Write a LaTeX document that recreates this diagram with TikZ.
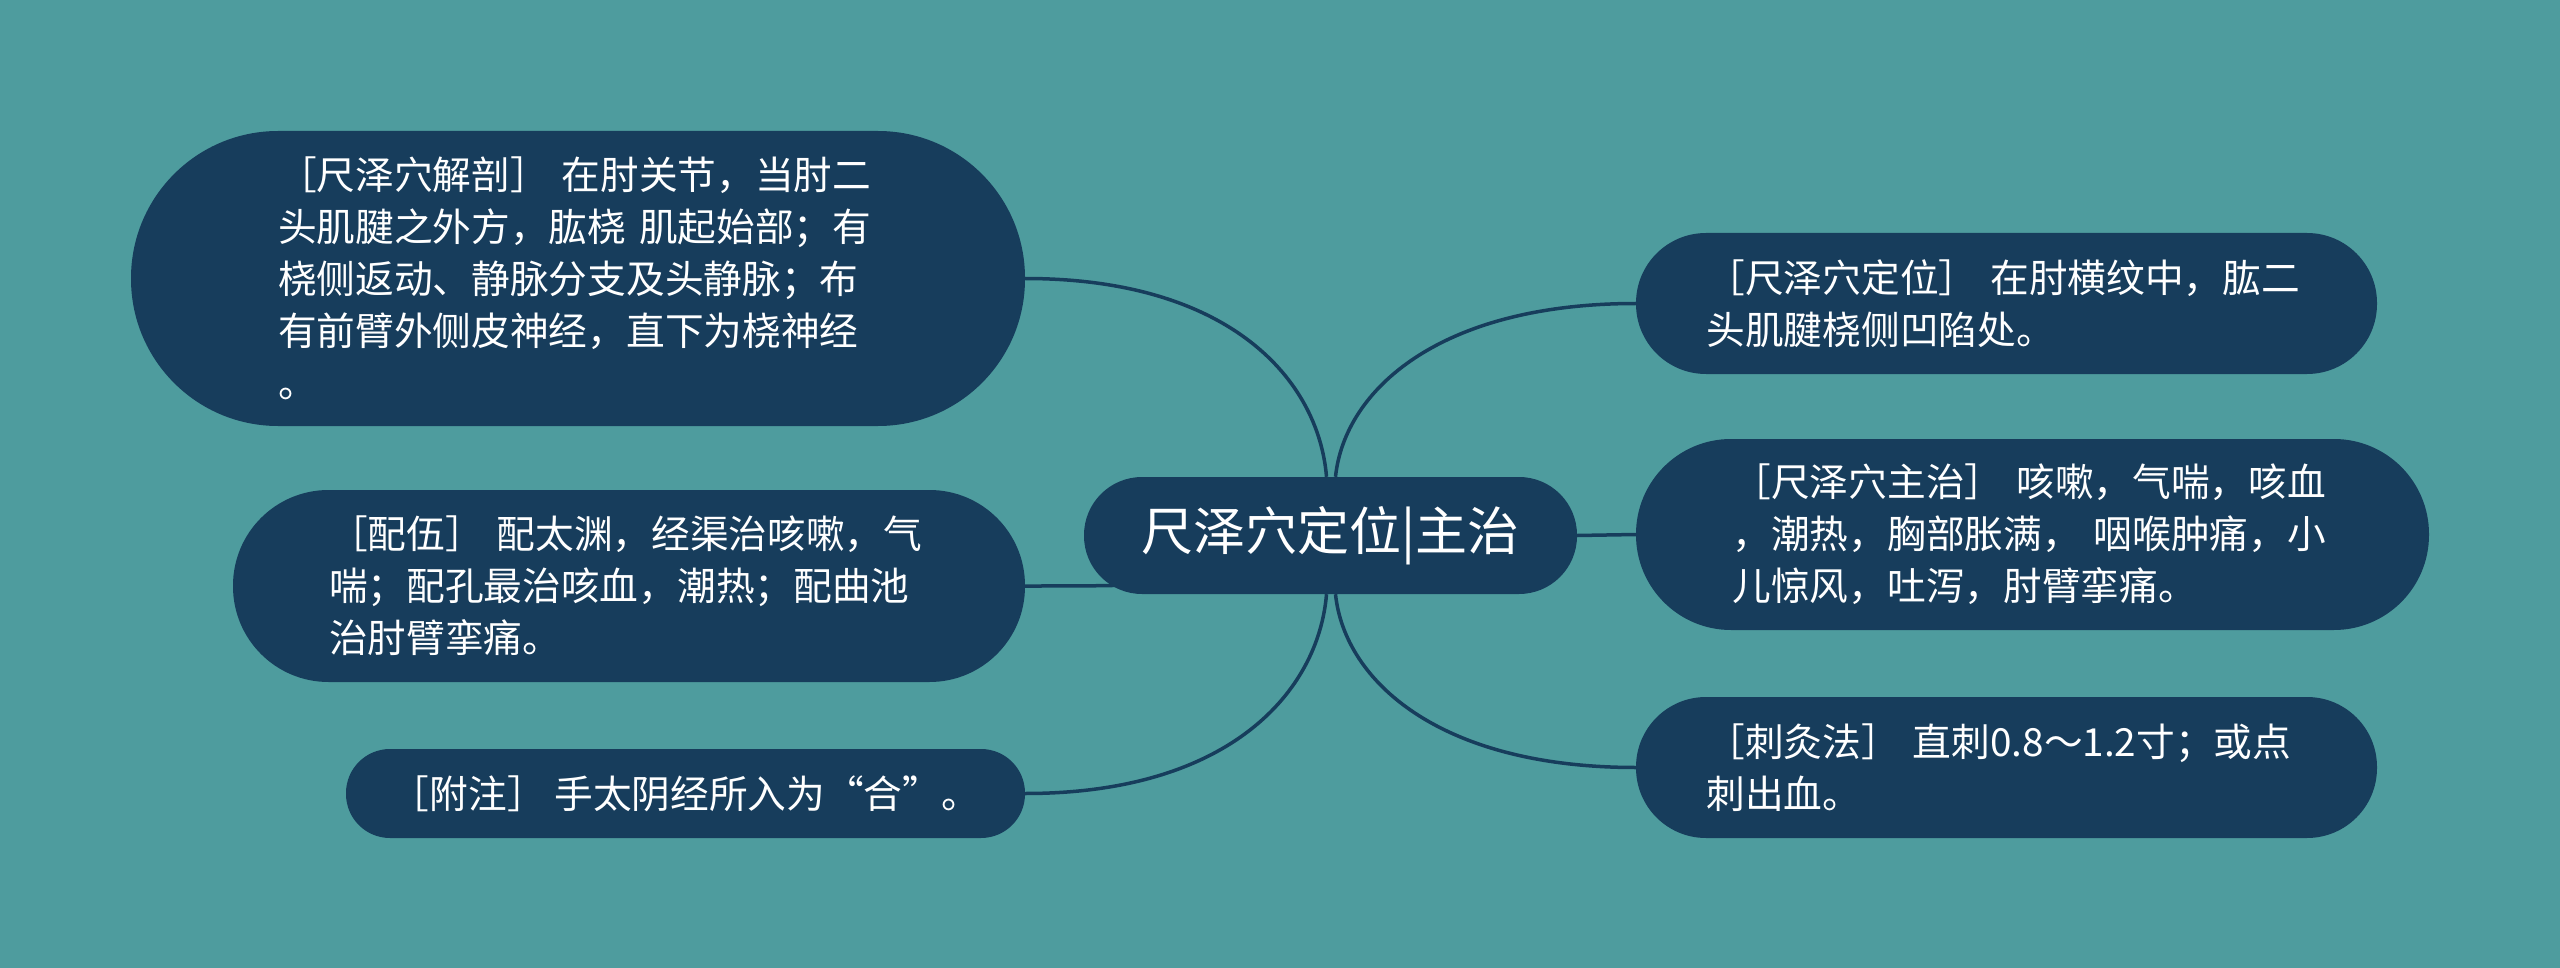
\documentclass[tikz,border=0pt]{standalone}
\usepackage{fontspec}
\newfontfamily\cjk{Noto Sans CJK SC}
\definecolor{bg}{HTML}{4E9C9E}
\definecolor{nodefill}{HTML}{173D5C}
\pgfdeclarelayer{back}
\pgfdeclarelayer{edges}
\pgfsetlayers{back,edges,main}
\begin{document}
\begin{tikzpicture}[x=1pt,y=-1pt,
  box/.style={fill=nodefill, text=white, inner sep=0pt,
    font=\cjk\fontsize{38.7pt}{52pt}\selectfont, align=left},
  wrapped/.style={text width=600pt},
  link/.style={draw=nodefill, line width=3.5pt}]
\begin{pgfonlayer}{back}
\fill[bg] (0,0) rectangle (2560,968);
\end{pgfonlayer}
\useasboundingbox (0,0) rectangle (2560,968);

\node[box, minimum width=493pt, minimum height=117pt, rounded corners=58pt,
  font=\cjk\fontsize{52pt}{60pt}\selectfont] (c) at (1330.5,535.5) {尺泽穴定位|主治};

\node[box, wrapped, minimum width=894pt, minimum height=295pt, rounded corners=147pt] (n1) at (578,278.5)
  {［尺泽穴解剖］ 在肘关节，当肘二\\头肌腱之外方，肱桡 肌起始部；有\\桡侧返动、静脉分支及头静脉；布\\有前臂外侧皮神经，直下为桡神经\\。};
\node[box, wrapped, minimum width=792pt, minimum height=192pt, rounded corners=95.5pt] (n2) at (629,586)
  {［配伍］ 配太渊，经渠治咳嗽，气\\喘；配孔最治咳血，潮热；配曲池\\治肘臂挛痛。};
\node[box, minimum width=679pt, minimum height=89pt, rounded corners=44pt] (n3) at (685.5,793.5)
  {［附注］ 手太阴经所入为“合”。};

\node[box, wrapped, minimum width=741pt, minimum height=141pt, rounded corners=70pt] (r1) at (2006.5,303.5)
  {［尺泽穴定位］ 在肘横纹中，肱二\\头肌腱桡侧凹陷处。};
\node[box, wrapped, minimum width=793pt, minimum height=191pt, rounded corners=95pt] (r2) at (2032.5,534.5)
  {［尺泽穴主治］ 咳嗽，气喘，咳血\\，潮热，胸部胀满， 咽喉肿痛，小\\儿惊风，吐泻，肘臂挛痛。};
\node[box, wrapped, minimum width=741pt, minimum height=141pt, rounded corners=70pt] (r3) at (2006.5,767.5)
  {［刺灸法］ 直刺0.8～1.2寸；或点\\刺出血。};

\begin{pgfonlayer}{edges}
\draw[link] ([xshift=-4pt]c.north) .. controls +(-8,-97) and +(205,0) .. (n1.east);
\draw[link] (c.center) .. controls +(-80,50.5) and +(150,0) .. (n2.east);
\draw[link] ([xshift=-4pt]c.south) .. controls +(-8,97) and +(205,0) .. (n3.east);
\draw[link] ([xshift=5pt]c.north) .. controls +(9,-87) and +(-196,0) .. (r1.west);
\draw[link] (c.east) -- (r2.west);
\draw[link] ([xshift=5pt]c.south) .. controls +(9,87) and +(-196,0) .. (r3.west);
\end{pgfonlayer}
\end{tikzpicture}
\end{document}
